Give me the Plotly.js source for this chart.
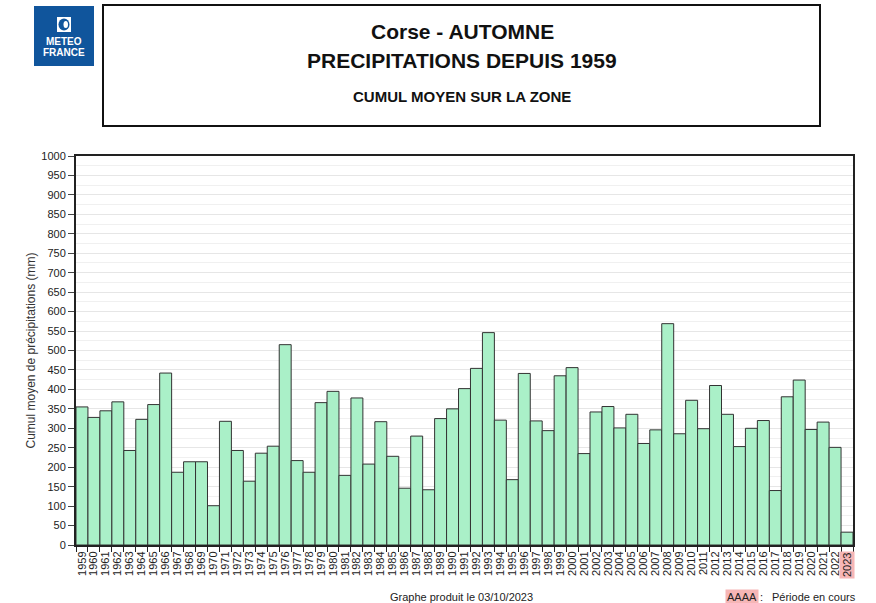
<!DOCTYPE html>
<html>
<head>
<meta charset="utf-8">
<script src="https://cdn.plot.ly/plotly-3.0.1.min.js"></script>
<style>
  html, body { margin: 0; padding: 0; background: #fff; }
  #chart { width: 876px; height: 603px; }
</style>
</head>
<body>
<div id="chart"></div>
<script>
// ---- Data ----
const years = [
  "1959","1960","1961","1962","1963","1964","1965","1966","1967","1968",
  "1969","1970","1971","1972","1973","1974","1975","1976","1977","1978",
  "1979","1980","1981","1982","1983","1984","1985","1986","1987","1988",
  "1989","1990","1991","1992","1993","1994","1995","1996","1997","1998",
  "1999","2000","2001","2002","2003","2004","2005","2006","2007","2008",
  "2009","2010","2011","2012","2013","2014","2015","2016","2017","2018",
  "2019","2020","2021","2022","2023"
];
const precipitation = [
  355, 328, 345, 368, 243, 323, 361, 442, 187, 214,
  214, 101, 318, 243, 164, 236, 254, 515, 217, 187,
  366, 395, 179, 378, 208, 317, 228, 146, 280, 142,
  325, 350, 402, 454, 546, 321, 168, 441, 319, 294,
  435, 456, 235, 342, 356, 301, 336, 261, 296, 569,
  286, 372, 299, 410, 336, 253, 300, 320, 140, 381,
  424, 297, 316, 251, 33
];
const currentYear = "2023";
const yTicks = [0,50,100,150,200,250,300,350,400,450,500,550,600,650,700,750,800,850,900,950,1000];

const titleLine1 = "Corse - AUTOMNE";
const titleLine2 = "PRECIPITATIONS DEPUIS 1959";
const titleLine3 = "CUMUL MOYEN SUR LA ZONE";
const yTitle = "Cumul moyen de précipitations (mm)";
const footer = "Graphe produit le 03/10/2023";

// ---- Layout helpers (pixel -> paper) ----
const W = 876, H = 603;
const M = {l: 76, r: 23, t: 156, b: 58};
const PW = W - M.l - M.r, PH = H - M.t - M.b;
const px = x => (x - M.l) / PW;
const py = y => (H - M.b - y) / PH;

const FONT = "Liberation Sans, Arial, sans-serif";
const pink = "#f6b6b6";
const blue = "#10559c";
const currentIdx = years.indexOf(currentYear);
// the current-year label is drawn as a highlighted annotation instead
const xTickText = years.map(y => (y === currentYear ? "" : y));

const trace = {
  type: "bar",
  x: years,
  y: precipitation,
  marker: { color: "#aaf0c8", line: { color: "#333333", width: 1 } },
  hoverinfo: "x+y"
};

const layout = {
  width: W, height: H,
  margin: M,
  paper_bgcolor: "#ffffff",
  plot_bgcolor: "#ffffff",
  bargap: 0,
  showlegend: false,
  font: { family: FONT, color: "#222", size: 11 },
  xaxis: {
    type: "category",
    range: [-0.5, years.length - 0.5],
    autorange: false,
    tickmode: "array",
    tickvals: years,
    ticktext: xTickText,
    tickangle: -90,
    tickson: "boundaries",
    ticks: "outside",
    ticklen: 5,
    tickcolor: "#222",
    tickwidth: 1,
    tickfont: { family: FONT, size: 11, color: "#222" },
    showline: true, mirror: true, linecolor: "#222", linewidth: 2,
    showgrid: false,
    fixedrange: true
  },
  yaxis: {
    range: [0, 1000],
    autorange: false,
    tickvals: yTicks,
    ticktext: yTicks.map(String),
    ticks: "outside",
    ticklen: 6,
    tickcolor: "#444",
    tickfont: { family: FONT, size: 11, color: "#222" },
    showline: true, mirror: true, linecolor: "#222", linewidth: 2,
    showgrid: true, gridcolor: "#e6e6e6", gridwidth: 1,
    minor: { dtick: 25, tick0: 0, showgrid: true, gridcolor: "#f0f0f0", gridwidth: 1 },
    zeroline: false,
    title: { text: yTitle, font: { family: FONT, size: 12, color: "#333" }, standoff: 3 },
    fixedrange: true
  },
  shapes: [
    // title box
    { type: "rect", xref: "paper", yref: "paper",
      x0: px(103), x1: px(820), y0: py(126), y1: py(5),
      line: { color: "#111", width: 2 }, fillcolor: "rgba(0,0,0,0)" },
    // logo block
    { type: "rect", xref: "paper", yref: "paper",
      x0: px(34), x1: px(94), y0: py(66), y1: py(6),
      line: { width: 0 }, fillcolor: blue },
    // logo icon
    { type: "rect", xref: "paper", yref: "paper",
      x0: px(57), x1: px(71), y0: py(32), y1: py(17),
      line: { width: 0 }, fillcolor: "#ffffff" },
    { type: "circle", xref: "paper", yref: "paper",
      x0: px(58.5), x1: px(69.5), y0: py(30.5), y1: py(18.5),
      line: { width: 0 }, fillcolor: blue },
    { type: "circle", xref: "paper", yref: "paper",
      x0: px(63.5), x1: px(68), y0: py(28), y1: py(21),
      line: { width: 0 }, fillcolor: "#ffffff" }
  ],
  annotations: [
    { text: "<b>" + titleLine1 + "</b>", xref: "paper", yref: "paper",
      x: px(462), y: py(31), xanchor: "center", yanchor: "middle", showarrow: false,
      font: { family: FONT, size: 21, color: "#111" } },
    { text: "<b>" + titleLine2 + "</b>", xref: "paper", yref: "paper",
      x: px(462), y: py(61), xanchor: "center", yanchor: "middle", showarrow: false,
      font: { family: FONT, size: 21, color: "#111" } },
    { text: "<b>" + titleLine3 + "</b>", xref: "paper", yref: "paper",
      x: px(462), y: py(97), xanchor: "center", yanchor: "middle", showarrow: false,
      font: { family: FONT, size: 15, color: "#111" } },
    { text: "<b>METEO</b>", xref: "paper", yref: "paper",
      x: px(64), y: py(41), xanchor: "center", yanchor: "middle", showarrow: false,
      font: { family: FONT, size: 10, color: "#ffffff" } },
    { text: "<b>FRANCE</b>", xref: "paper", yref: "paper",
      x: px(64), y: py(52), xanchor: "center", yanchor: "middle", showarrow: false,
      font: { family: FONT, size: 10, color: "#ffffff" } },
    // highlighted current-year label
    { text: currentYear, xref: "x", yref: "paper",
      x: currentIdx, y: py(551), xanchor: "center", yanchor: "top", textangle: -90,
      showarrow: false, bgcolor: pink, borderpad: 1,
      font: { family: FONT, size: 11, color: "#222" } },
    // footer
    { text: footer, xref: "paper", yref: "paper",
      x: px(461), y: py(597), xanchor: "center", yanchor: "middle", showarrow: false,
      font: { family: FONT, size: 11, color: "#222" } },
    { text: "AAAA", xref: "paper", yref: "paper",
      x: px(742), y: py(597), xanchor: "center", yanchor: "middle", showarrow: false,
      bgcolor: pink, borderpad: 1,
      font: { family: FONT, size: 11, color: "#222" } },
    { text: ":", xref: "paper", yref: "paper",
      x: px(761), y: py(597), xanchor: "center", yanchor: "middle", showarrow: false,
      font: { family: FONT, size: 11, color: "#222" } },
    { text: "Période en cours", xref: "paper", yref: "paper",
      x: px(770), y: py(597), xanchor: "left", yanchor: "middle", showarrow: false,
      font: { family: FONT, size: 11, color: "#222" } }
  ]
};

Plotly.newPlot("chart", [trace], layout, { displayModeBar: false, staticPlot: true });
</script>
</body>
</html>
